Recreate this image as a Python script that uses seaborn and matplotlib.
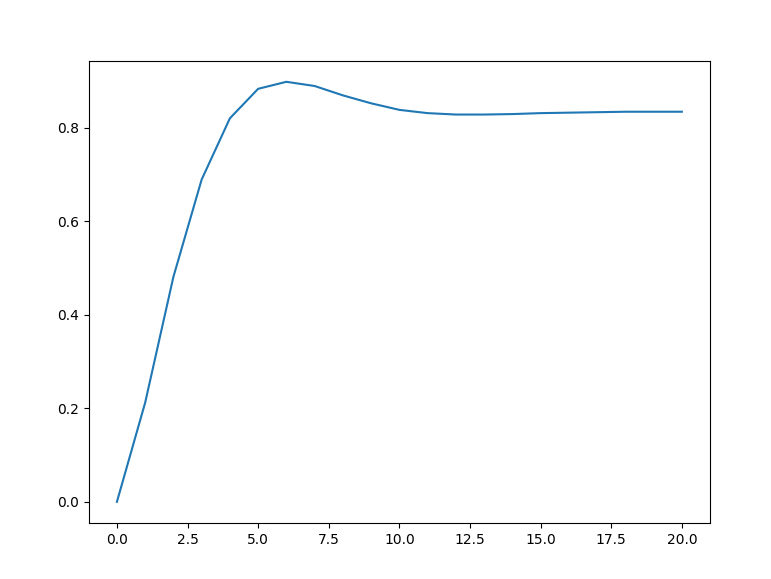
import matplotlib
matplotlib.use("Agg")
import matplotlib.pyplot as plt
import seaborn as sns

steps = list(range(21))
response = [0.0, 0.212, 0.481, 0.689, 0.820, 0.883, 0.898, 0.889, 0.869, 0.852,
            0.838, 0.831, 0.828, 0.828, 0.829, 0.831, 0.832, 0.833, 0.834, 0.834, 0.834]

fig, ax = plt.subplots(figsize=(7.71, 5.79), dpi=100)
fig.subplots_adjust(left=0.115, right=0.921, bottom=0.097, top=0.895)
sns.lineplot(x=steps, y=response, ax=ax, color="#1f77b4")
fig.savefig("out.png")
